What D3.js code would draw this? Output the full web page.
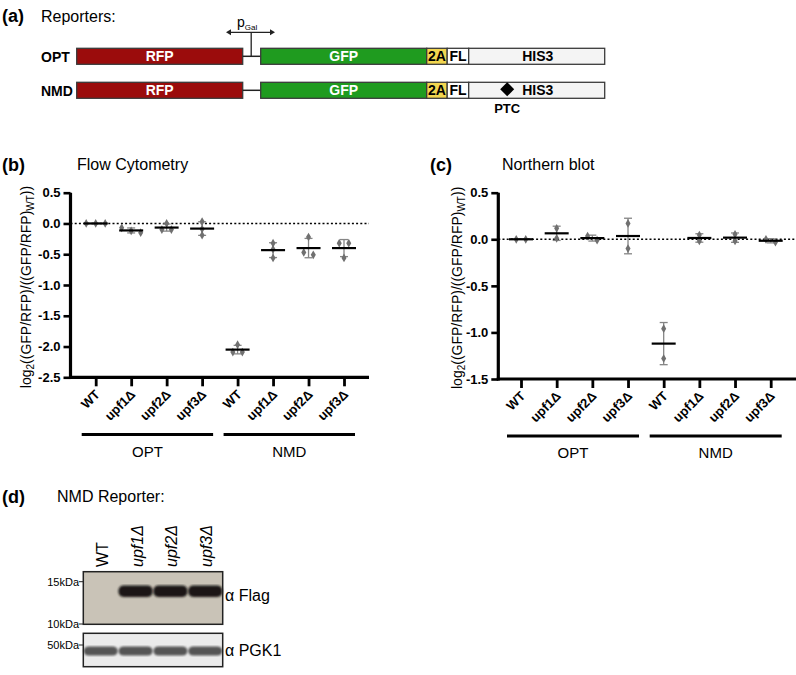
<!DOCTYPE html>
<html><head><meta charset="utf-8">
<script src="https://cdn.jsdelivr.net/npm/d3@7"></script>
<style>body{margin:0;background:#fff}svg{display:block;font-family:"Liberation Sans",Arial,Helvetica,sans-serif}</style>
</head><body><svg id="fig" width="796" height="675"></svg>
<script>
// ---------------- data ----------------
const strains = ["WT", "upf1Δ", "upf2Δ", "upf3Δ"];
const reporters = ["OPT", "NMD"];
const flowOPT = [[0, 0, 0], [-0.15, -0.07, -0.12], [-0.10, 0.0, -0.10], [0.03, -0.09, -0.19]];
const flowNMD = [[-1.97, -2.09, -2.09], [-0.32, -0.56, -0.42], [-0.22, -0.51, -0.47], [-0.32, -0.32, -0.56]];
const northOPT = [[0, 0], [0.118, 0.01], [-0.01, 0.035], [0.17, -0.10]];
const northNMD = [[-0.96, -1.28], [0.046, -0.018], [0.053, -0.018], [-0.032, 0.0]];
const flowTicks = [0.5, 0, -0.5, -1, -1.5, -2, -2.5];
const northTicks = [0.5, 0, -0.5, -1, -1.5];
const segNames = ["RFP", "", "GFP", "2A", "FL", "HIS3"];
const segLengths = [166, 18, 166, 20.5, 21.5, 136];
const ptcOffset = 38.5;          // PTC site within HIS3 (same units as segLengths)
const lanes = ["WT", "upf1Δ", "upf2Δ", "upf3Δ"];
const flagSignal = [0, 1, 1, 1];
const pgkSignal = [1, 1, 1, 1];
const flagMarkers = ["15kDa", "10kDa"];
const pgkMarkers = ["50kDa"];

const svg = d3.select("#fig");
const FONT = '"Liberation Sans",Arial,Helvetica,sans-serif';

function txt(g, x, y, s, opts = {}) {
  return g.append("text").attr("x", x).attr("y", y).text(s)
    .attr("font-size", opts.size || 14)
    .attr("font-weight", opts.bold ? "bold" : "normal")
    .attr("font-style", opts.italic ? "italic" : "normal")
    .attr("text-anchor", opts.anchor || "start")
    .attr("fill", opts.fill || "#000");
}

// ---------------- panel (a) ----------------
const a = svg.append("g");
txt(a, 2, 22, "(a)", {size: 18, bold: true});
txt(a, 41, 22, "Reporters:", {size: 16});
const total = d3.sum(segLengths);
const xs = d3.scaleLinear().domain([0, total]).range([76.7, 76.7 + total]);
const starts = segLengths.map((d, i) => d3.sum(segLengths.slice(0, i)));
const segFill = {"RFP": "#9b0c0c", "GFP": "#1f9b1f", "2A": "#f2d64f", "FL": "#ffffff", "HIS3": "#f4f4f4"};
const segText = {"RFP": "#fff", "GFP": "#fff", "2A": "#000", "FL": "#000", "HIS3": "#000"};
const rowsY = [48.3, 82.3];
const barH = 16;
reporters.forEach((rep, r) => {
  const y0 = rowsY[r];
  txt(a, 41, y0 + 13.5, rep, {size: 14, bold: true});
  segNames.forEach((nm, i) => {
    const x0 = xs(starts[i]), x1 = xs(starts[i] + segLengths[i]);
    if (nm === "") {
      a.append("line").attr("x1", x0).attr("x2", x1).attr("y1", y0 + barH / 2).attr("y2", y0 + barH / 2)
        .attr("stroke", "#222").attr("stroke-width", 1.5);
      return;
    }
    a.append("rect").attr("x", x0).attr("y", y0).attr("width", x1 - x0).attr("height", barH)
      .attr("fill", segFill[nm]).attr("stroke", "#3a3a3a").attr("stroke-width", 1.3);
    let cx = (x0 + x1) / 2;
    if (nm === "HIS3") cx = x0 + 69;
    txt(a, cx, y0 + 13, nm, {size: 14, bold: true, anchor: "middle", fill: segText[nm]});
  });
  if (rep === "NMD") {
    const px = xs(starts[5] + ptcOffset), py = y0 + barH / 2 - 1;
    const s = 7;
    a.append("path").attr("d", `M${px},${py - s}L${px + s},${py}L${px},${py + s}L${px - s},${py}Z`).attr("fill", "#000");
    txt(a, px, y0 + 31, "PTC", {size: 13, bold: true, anchor: "middle"});
  }
});
// promoter
{
  const linkMid = (xs(starts[1]) + xs(starts[2])) / 2 - 0.5;
  const ay = 32.3;
  a.append("line").attr("x1", linkMid).attr("x2", linkMid).attr("y1", ay).attr("y2", rowsY[0] + barH / 2).attr("stroke", "#222").attr("stroke-width", 1.3);
  a.append("line").attr("x1", 229).attr("x2", 272).attr("y1", ay).attr("y2", ay).attr("stroke", "#222").attr("stroke-width", 1.2);
  a.append("path").attr("d", `M226,${ay}l5,-3v6z`).attr("fill", "#222");
  a.append("path").attr("d", `M275,${ay}l-5,-3v6z`).attr("fill", "#222");
  const t = txt(a, 237, 27, "p", {size: 14});
  t.append("tspan").attr("dy", 3).attr("font-size", 8).text("Gal");
}

// ---------------- dot plots (b), (c) ----------------
function dotPlot(cfg) {
  const g = svg.append("g");
  const y = d3.scaleLinear().domain(cfg.domain).range([cfg.yBottom, cfg.yTop]);
  const cats = [];
  reporters.forEach((rep, r) => strains.forEach((s, i) => cats.push({rep, s, idx: r * 4 + i, vals: cfg.data[r][i]})));
  const x = d3.scalePoint().domain(d3.range(8)).range([cfg.x0, cfg.x1]);

  txt(g, cfg.labelX, 171, cfg.letter, {size: 18, bold: true});
  txt(g, cfg.titleX, 170, cfg.title, {size: 16});

  // zero line
  g.append("line").attr("x1", cfg.axisX).attr("x2", cfg.axisEnd).attr("y1", y(0)).attr("y2", y(0))
    .attr("stroke", "#000").attr("stroke-width", 1.6).attr("stroke-dasharray", "2,2.2");

  // y axis
  const ya = g.append("g").attr("transform", `translate(${cfg.axisX},0)`)
    .call(d3.axisLeft(y).tickValues(cfg.ticks).tickSize(7).tickSizeOuter(0).tickPadding(3).tickFormat(d => d.toFixed(1)));
  ya.select(".domain").attr("stroke-width", 3.2).attr("d", `M0,${cfg.yTop}V${cfg.yBottom + 1.5}`);
  ya.selectAll(".tick line").attr("stroke-width", 2.6);
  ya.selectAll(".tick text").attr("font-size", 13).attr("font-weight", "bold").attr("font-family", FONT).attr("fill", "#000");

  // x axis
  const xa = g.append("g").attr("transform", `translate(0,${cfg.yBottom})`)
    .call(d3.axisBottom(x).tickSize(9).tickSizeOuter(0).tickFormat(""));
  xa.select(".domain").attr("stroke-width", 3.2).attr("d", `M${cfg.axisX - 1.5},0H${cfg.axisEnd}`);
  xa.selectAll(".tick line").attr("stroke-width", 2.8);
  cats.forEach(c => {
    g.append("text").attr("transform", `translate(${x(c.idx) + 5},${cfg.yBottom + 18}) rotate(-45)`)
      .attr("text-anchor", "end").attr("font-size", 13).attr("font-weight", "bold").text(c.s);
  });

  // group bars
  reporters.forEach((rep, r) => {
    const gx0 = x(r * 4) - 14, gx1 = x(r * 4 + 3) + 11;
    g.append("line").attr("x1", gx0).attr("x2", gx1).attr("y1", cfg.groupY).attr("y2", cfg.groupY)
      .attr("stroke", "#000").attr("stroke-width", 3.2);
    txt(g, (gx0 + gx1) / 2, cfg.groupY + 22, rep, {size: 15, anchor: "middle"});
  });

  // y title
  const yt = g.append("text").attr("transform", `translate(${cfg.ytX},${(cfg.yTop + cfg.yBottom) / 2 + 2}) rotate(-90)`)
    .attr("text-anchor", "middle").attr("font-size", 14);
  yt.append("tspan").text("log");
  yt.append("tspan").attr("font-size", 10).attr("dy", 3).text("2");
  yt.append("tspan").attr("dy", -3).text("((GFP/RFP)/((GFP/RFP)");
  yt.append("tspan").attr("font-size", 10).attr("dy", 3).text("WT");
  yt.append("tspan").attr("dy", -3).text("))");

  // data
  cats.forEach(c => {
    const cx = x(c.idx);
    const m = d3.mean(c.vals), sd = d3.deviation(c.vals);
    g.append("line").attr("x1", cx).attr("x2", cx).attr("y1", y(m + sd)).attr("y2", y(m - sd))
      .attr("stroke", "#858585").attr("stroke-width", 1.3);
    [m + sd, m - sd].forEach(v => g.append("line").attr("x1", cx - 4).attr("x2", cx + 4).attr("y1", y(v)).attr("y2", y(v))
      .attr("stroke", "#858585").attr("stroke-width", 1.3));
    // horizontal spreading of points that overlap in y
    const pts = c.vals.map(v => ({v, py: y(v)})).sort((p, q) => p.py - q.py);
    const clusters = [];
    pts.forEach(p => {
      const last = clusters[clusters.length - 1];
      if (last && p.py - last[last.length - 1].py < 5) last.push(p); else clusters.push([p]);
    });
    clusters.forEach(cl => cl.forEach((p, k) => { p.px = cx + (k - (cl.length - 1) / 2) * 9.5; }));
    pts.forEach(p => g.append("path").attr("transform", `translate(${p.px},${p.py})`)
      .attr("d", d3.symbol(d3.symbolDiamond, 22)).attr("fill", "#707070"));
    g.append("line").attr("x1", cx - 12).attr("x2", cx + 12).attr("y1", y(m)).attr("y2", y(m))
      .attr("stroke", "#000").attr("stroke-width", 2.2);
  });
}

dotPlot({letter: "(b)", title: "Flow Cytometry", labelX: 2, titleX: 77, data: [flowOPT, flowNMD],
  domain: [-2.5, 0.5], ticks: flowTicks, yTop: 192.7, yBottom: 377.3, axisX: 70.5, axisEnd: 369,
  x0: 95.7, x1: 344, groupY: 434.5, ytX: 31});
dotPlot({letter: "(c)", title: "Northern blot", labelX: 430, titleX: 502, data: [northOPT, northNMD],
  domain: [-1.5, 0.5], ticks: northTicks, yTop: 192.7, yBottom: 379, axisX: 498.3, axisEnd: 796,
  x0: 521, x1: 770.7, groupY: 436, ytX: 462});

// ---------------- panel (d) western ----------------
const d = svg.append("g");
txt(d, 2, 503, "(d)", {size: 18, bold: true});
txt(d, 57, 502, "NMD Reporter:", {size: 16});
const lx = d3.scaleBand().domain(lanes).range([83.3, 222.7]).paddingInner(0.02).paddingOuter(0.01);
lanes.forEach((ln, i) => {
  d.append("text").attr("transform", `translate(${lx(ln) + lx.bandwidth() / 2 + 7},567) rotate(-90)`)
    .attr("font-size", 16).attr("font-style", i === 0 ? "normal" : "italic").text(ln);
});
const defs = svg.append("defs");
defs.append("filter").attr("id", "blur").append("feGaussianBlur").attr("stdDeviation", 1.2);
const blots = [
  {y0: 571.7, y1: 624.3, bg: "#c9c3b7", sig: flagSignal, bandY: 585.5, bandH: 11.5, col: "#1c1713", label: "α Flag", ly: 601, markers: flagMarkers, my: [581.7, 624]},
  {y0: 633.3, y1: 666.7, bg: "#ebebeb", sig: pgkSignal, bandY: 646.5, bandH: 9, col: "#555", label: "α PGK1", ly: 656, markers: pgkMarkers, my: [645]}
];
blots.forEach(b => {
  d.append("rect").attr("x", 83.3).attr("y", b.y0).attr("width", 139.4).attr("height", b.y1 - b.y0).attr("fill", b.bg);
  lanes.forEach((ln, i) => {
    if (b.sig[i] > 0) {
      d.append("rect").attr("x", lx(ln)).attr("y", b.bandY).attr("width", lx.bandwidth()).attr("height", b.bandH)
        .attr("rx", 5).attr("fill", b.col).attr("opacity", b.sig[i]).attr("filter", "url(#blur)");
    }
  });
  d.append("rect").attr("x", 83.3).attr("y", b.y0).attr("width", 139.4).attr("height", b.y1 - b.y0)
    .attr("fill", "none").attr("stroke", "#222").attr("stroke-width", 1.5);
  txt(d, 225, b.ly, b.label, {size: 16});
  b.markers.forEach((mk, k) => {
    txt(d, 79, b.my[k] + 4, mk, {size: 11, anchor: "end"});
    d.append("line").attr("x1", 79).attr("x2", 84).attr("y1", b.my[k]).attr("y2", b.my[k]).attr("stroke", "#222").attr("stroke-width", 1);
  });
});
</script></body></html>
